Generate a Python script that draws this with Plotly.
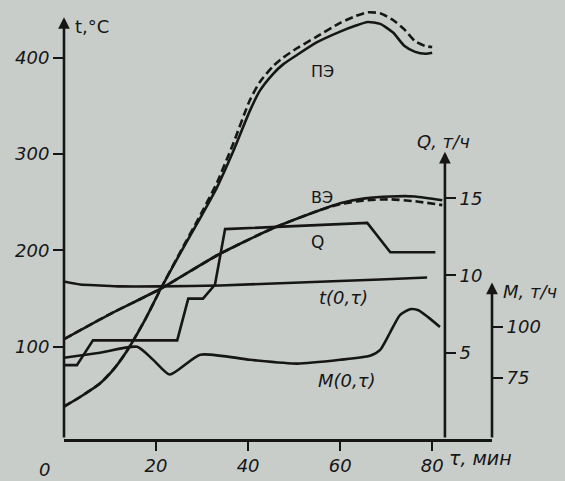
import plotly.graph_objects as go

# ---- data -------------------------------------------------------------
# ПЭ: superheated steam temperature, °C (solid — computed, dashed — measured)
tau_pe = [0, 3.5, 7.8, 11, 13.7, 17.6, 21, 25, 30, 33.3, 36.7, 40.4, 42.6,
          45.4, 47.6, 50.7, 55, 60, 63.3, 66, 68.7, 71.5, 74, 76.3, 78.5, 80]
t_pe_solid = [38, 48, 62, 78, 96, 128, 160, 195, 237, 266, 302, 345, 366,
              383, 393, 403, 416, 427, 433, 437, 435, 426, 412, 406, 404, 405]
t_pe_dash = [38, 48, 62, 78, 96, 128, 160, 196, 240, 271, 310, 356, 375,
             391, 400, 410, 422, 436, 443, 447, 446, 439, 429, 417, 412, 411]

# ВЭ: economiser water temperature, °C
tau_ve = [0, 10, 20.9, 33.3, 45.4, 55.7, 60, 65.4, 70.9, 76.3, 82.2]
t_ve_solid = [108, 134, 160, 195, 223, 242, 249, 254, 256, 256, 252]
t_ve_dash = [108, 134, 160, 195, 223, 242, 248, 252, 253, 251, 247]

# t(0,τ): inlet water temperature, °C
tau_t0 = [0, 3.5, 7.8, 12.2, 20.9, 33.9, 51.3, 68.7, 78.9]
t_t0 = [167.8, 164.7, 163.7, 162.7, 162.7, 163.7, 166.8, 169.9, 171.9]

# Q: heat input, т/ч
tau_q = [0, 2.8, 6.3, 24.6, 27, 30.2, 32.8, 35, 65.9, 70.9, 80.7]
q_vals = [4.2, 4.2, 5.8, 5.8, 8.5, 8.5, 9.4, 13.0, 13.4, 11.5, 11.5]

# M(0,τ): feed water flow, т/ч
tau_m = [0, 7.8, 15.9, 19.5, 23, 29.6, 40.4, 50.7, 60, 66.5, 68.7, 70.9,
         73.0, 75.2, 77.0, 79.1, 81.7]
m_vals = [84.8, 87.3, 90.2, 83.5, 76.5, 86.3, 83.8, 81.9, 83.8, 85.8, 88.7,
          97.5, 105.9, 108.8, 108.3, 104.9, 100]

x_ticks = [20, 40, 60, 80]
t_ticks = [100, 200, 300, 400]
q_ticks = [5, 10, 15]
m_ticks = [75, 100]

# ---- layout constants ---------------------------------------------------
X_RANGE = [0, 93]
T_RANGE = [4.4, 454.6]
Q_RANGE = [-0.58, 27.5]
M_RANGE = [44.6, 259.3]
Q_POS = 0.89            # Q axis position as a fraction of the plot width
Q_X = X_RANGE[0] + Q_POS * (X_RANGE[1] - X_RANGE[0])

INK = "#161616"
BG = "#c8cdca"
FONT = "DejaVu Sans"
LW = 2.6

fig = go.Figure()

def curve(x, y, yaxis="y", dash="solid", smooth=True):
    fig.add_trace(go.Scatter(
        x=x, y=y, yaxis=yaxis, mode="lines", hoverinfo="skip",
        line=dict(color=INK, width=LW, dash=dash,
                  shape="spline" if smooth else "linear",
                  smoothing=0.6 if smooth else None),
        showlegend=False))

curve(tau_pe, t_pe_solid)
curve(tau_pe, t_pe_dash, dash="8px,4px")
curve(tau_ve, t_ve_solid)
curve(tau_ve, t_ve_dash, dash="8px,4px")
curve(tau_t0, t_t0)
curve(tau_q, q_vals, yaxis="y2", smooth=False)
curve(tau_m, m_vals, yaxis="y3")

tick_font = dict(family=FONT, size=18, color=INK, style="italic")

fig.update_layout(
    width=565, height=481,
    margin=dict(l=64, r=73, t=5, b=38),
    paper_bgcolor=BG, plot_bgcolor=BG,
    xaxis=dict(range=X_RANGE, tickvals=x_ticks, ticks="outside", ticklen=9,
               tickwidth=2, tickcolor=INK, showline=True, linewidth=LW,
               linecolor=INK, showgrid=False, zeroline=False,
               tickfont=tick_font, fixedrange=True),
    yaxis=dict(range=T_RANGE, tickvals=t_ticks, ticks="outside", ticklen=10,
               tickwidth=2, tickcolor=INK, showline=False, showgrid=False,
               zeroline=False, tickfont=tick_font),
    yaxis2=dict(range=Q_RANGE, tickvals=q_ticks, overlaying="y",
                anchor="free", position=Q_POS, side="right", ticks="outside",
                ticklen=10, tickwidth=2, tickcolor=INK, showline=False,
                showgrid=False, zeroline=False, tickfont=tick_font),
    yaxis3=dict(range=M_RANGE, tickvals=m_ticks, overlaying="y",
                anchor="x", side="right", ticks="outside", ticklen=10,
                tickwidth=2, tickcolor=INK, showline=False, showgrid=False,
                zeroline=False, tickfont=tick_font),
)

# axis lines with arrow tips
def axis_arrow(x, y0, y1, yref):
    fig.add_annotation(x=x, y=y1, ax=x, ay=y0, xref="x", yref=yref,
                       axref="x", ayref=yref, text="", showarrow=True,
                       arrowhead=2, arrowsize=0.9, arrowwidth=LW,
                       arrowcolor=INK)

axis_arrow(0, T_RANGE[0], 442, "y")
axis_arrow(Q_X, Q_RANGE[0], 18.0, "y2")
axis_arrow(X_RANGE[1], M_RANGE[0], 122, "y3")

def label(text, x, y, xref="x", yref="y", size=17, italic=False,
          xanchor="center"):
    fig.add_annotation(x=x, y=y, xref=xref, yref=yref, text=text,
                       showarrow=False, xanchor=xanchor, yanchor="middle",
                       font=dict(family=FONT, size=size, color=INK,
                                 style="italic" if italic else "normal"))

# curve captions
label("ПЭ", 56.1, 386, size=16)
label("ВЭ", 56.1, 255, size=16)
label("Q", 55.0, 209, size=17)
label("t(0,τ)", 60.7, 151, size=18, italic=True)
label("M(0,τ)", 61.5, 65, size=18, italic=True)

# axis titles
label("t,°C", 2.0, 432, size=18, xanchor="left")
label("Q, т/ч", Q_X - 6.6, 313, size=18, italic=True, xanchor="left")
label("M, т/ч", 1.02, 0.34, xref="paper", yref="paper", size=18,
      italic=True, xanchor="left")
label("τ, мин", 0.895, -0.043, xref="paper", yref="paper", size=19,
      italic=True, xanchor="left")
label("0", -0.045, -0.07, xref="paper", yref="paper", size=18, italic=True)

fig.write_html("out.html")
